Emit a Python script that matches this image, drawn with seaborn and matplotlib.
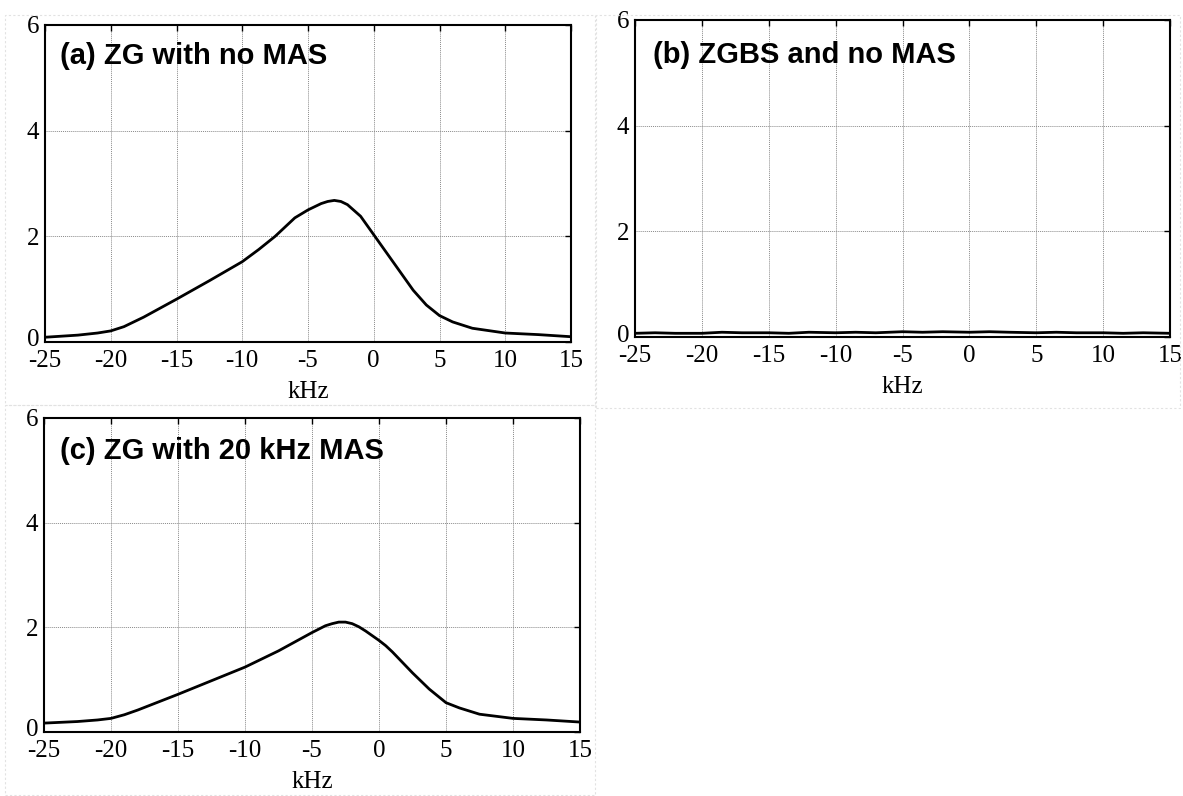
import numpy as np
import pandas as pd
import matplotlib
matplotlib.use("Agg")
import matplotlib.pyplot as plt
import matplotlib.transforms as mtransforms
import seaborn as sns
from matplotlib.patches import Rectangle

# spectra (kHz vs intensity)
freq_a = [-25, -22.5, -21, -20, -19, -18, -17.5, -15, -12.5, -10, -8.75, -7.5, -6, -5, -4,
          -3.5, -3, -2.5, -2, -1, 0, 1, 2, 3, 4, 5, 6, 7.5, 10, 12.5, 15]
int_a = [0.09, 0.13, 0.17, 0.21, 0.29, 0.41, 0.47, 0.81, 1.16, 1.52, 1.75, 2.0, 2.35, 2.5, 2.62,
         2.66, 2.68, 2.66, 2.6, 2.38, 2.03, 1.68, 1.33, 0.98, 0.7, 0.5, 0.38, 0.26, 0.17, 0.14, 0.1]

freq_b = [-25, -23.5, -22, -20, -18.5, -17, -15, -13.5, -12, -10, -8.5, -7, -5, -3.5, -2,
          0, 1.5, 3, 5, 6.5, 8, 10, 11.5, 13, 15]
int_b = [0.07, 0.08, 0.07, 0.07, 0.09, 0.08, 0.08, 0.07, 0.09, 0.08, 0.09, 0.08, 0.1, 0.09, 0.1,
         0.09, 0.1, 0.09, 0.08, 0.09, 0.08, 0.08, 0.07, 0.08, 0.07]

freq_c = [-25, -22.5, -21, -20, -19, -18, -17.5, -15, -12.5, -10, -7.5, -5, -4, -3.5, -3, -2.5,
          -2, -1.5, -1, 0, 0.5, 1, 1.75, 2.5, 3.75, 5, 6, 7.5, 10, 12.5, 15]
int_c = [0.17, 0.2, 0.23, 0.26, 0.33, 0.42, 0.47, 0.72, 0.98, 1.24, 1.55, 1.9, 2.03, 2.07, 2.1, 2.1,
         2.07, 2.01, 1.93, 1.75, 1.65, 1.53, 1.33, 1.13, 0.82, 0.56, 0.46, 0.34, 0.26, 0.23, 0.19]

titles = ["(a) ZG with no MAS", "(b) ZGBS and no MAS", "(c) ZG with 20 kHz MAS"]
xticks = [-25, -20, -15, -10, -5, 0, 5, 10, 15]
yticks = [0, 2, 4, 6]

sns.set_style("white")
plt.rcParams["font.family"] = ["Liberation Serif", "DejaVu Serif"]
plt.rcParams["text.color"] = "black"

W, H = 1183, 796
fig = plt.figure(figsize=(W / 100, H / 100), dpi=100)

# faint dotted frames around each panel
for (x0, y0, x1, y1) in [(5, 15, 595, 405), (596, 15, 1180, 408), (5, 405, 595, 795)]:
    fig.patches.append(Rectangle((x0 / W, 1 - y1 / H), (x1 - x0) / W, (y1 - y0) / H,
                                 transform=fig.transFigure, fill=False,
                                 edgecolor="#e2e2e2", lw=0.8, ls=(0, (2, 2))))

# axes boxes in pixels: left, top, right, bottom
boxes = [(45, 25, 571, 342), (635, 20, 1170, 337), (44, 418, 580, 732)]
data = [(freq_a, int_a), (freq_b, int_b), (freq_c, int_c)]
title_pos = [(0.0285, 0.877), (0.034, 0.864), (0.030, 0.869)]

for (l, t, r, b), (fx, fy), title, (tx, ty) in zip(boxes, data, titles, title_pos):
    ax = fig.add_axes([l / W, 1 - b / H, (r - l) / W, (b - t) / H])
    df = pd.DataFrame({"kHz": fx, "val": fy})
    sns.lineplot(data=df, x="kHz", y="val", ax=ax, color="black", lw=2.0)
    ax.set_xlim(-25, 15)
    ax.set_ylim(0, 6)
    ax.set_xticks(xticks)
    ax.set_yticks(yticks)
    ax.set_xticklabels([str(v) for v in xticks])
    ax.set_yticklabels([str(v) for v in yticks])
    ax.grid(True, color="#8a8a8a", lw=0.7, ls=(0, (1, 1)))
    ax.tick_params(direction="in", length=4, width=1, top=True, right=True,
                   labelsize=18, pad=4, colors="black")
    ax.tick_params(axis="x", pad=6)
    # lift the "0" label a touch so it does not sit on "-25"
    zero = ax.get_yticklabels()[0]
    zero.set_transform(zero.get_transform() +
                       mtransforms.ScaledTranslation(0, 4 / 100, fig.dpi_scale_trans))
    for s in ax.spines.values():
        s.set_color("black")
        s.set_linewidth(1.5)
    ax.set_xlabel("kHz", fontsize=18, labelpad=6, color="black")
    ax.set_ylabel("")
    ax.text(tx, ty, title, transform=ax.transAxes, fontsize=21, fontweight="bold",
            color="black", family=["Liberation Sans", "DejaVu Sans"],
            va="baseline", ha="left")

fig.savefig("out.png", dpi=100)
